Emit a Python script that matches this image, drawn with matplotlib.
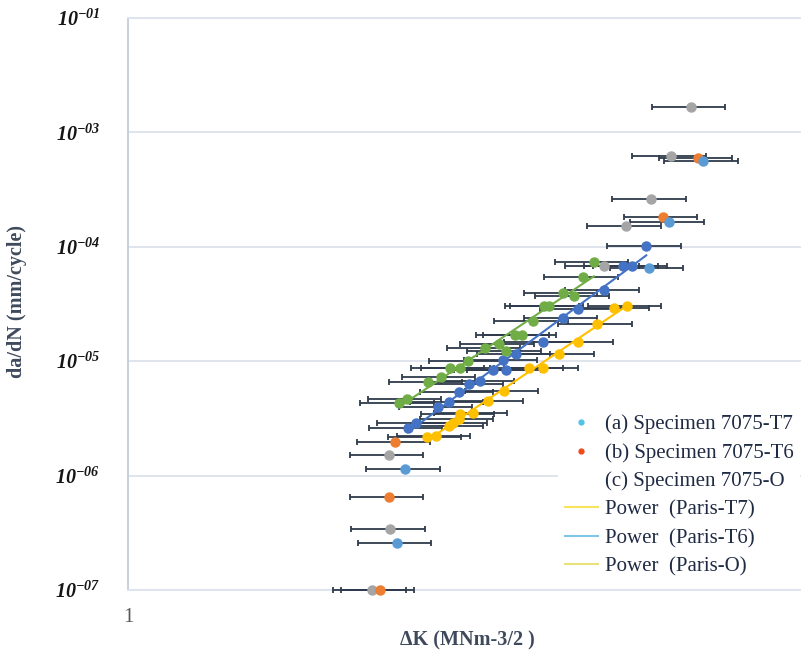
import matplotlib
matplotlib.use("Agg")
import matplotlib.pyplot as plt
from matplotlib.lines import Line2D
import numpy as np

# Delta K (MNm-3/2) and da/dN (mm/cycle)
T7_DK = [2.42, 2.49, 5.55, 5.93, 6.63]
T7_DADN = [2.58e-7, 1.14e-6, 6.53e-5, 1.65e-4, 5.62e-4]

T6_DK = [2.29, 2.36, 2.41, 5.81, 6.52]
T6_DADN = [1.00e-7, 6.50e-7, 1.97e-6, 1.82e-4, 5.97e-4]

O_DK = [2.23, 2.37, 2.36, 4.79, 5.15, 5.59, 5.97, 6.37]
O_DADN = [1.00e-7, 3.41e-7, 1.51e-6, 6.80e-5, 1.52e-4, 2.62e-4, 6.22e-4, 1.67e-3]

# Paris-region series (fitted with power trend lines)
PARIS_T7_DK = [2.67, 2.75, 2.87, 2.91, 2.97, 2.98, 3.11, 3.27, 3.44, 3.74, 3.92,
               4.13, 4.40, 4.68, 4.95, 5.16]
PARIS_T7_DADN = [2.18e-6, 2.22e-6, 2.71e-6, 2.88e-6, 3.12e-6, 3.46e-6, 3.53e-6,
                 4.49e-6, 5.49e-6, 8.72e-6, 8.72e-6, 1.16e-5, 1.47e-5, 2.12e-5,
                 2.92e-5, 3.04e-5]

PARIS_T6_DK = [2.51, 2.58, 2.77, 2.87, 2.97, 3.07, 3.18, 3.32, 3.43, 3.47, 3.58,
               3.92, 4.18, 4.40, 4.79, 5.10, 5.25, 5.50]
PARIS_T6_DADN = [2.61e-6, 2.88e-6, 3.98e-6, 4.40e-6, 5.38e-6, 6.32e-6, 6.71e-6,
                 8.38e-6, 1.02e-5, 8.38e-6, 1.16e-5, 1.47e-5, 2.39e-5, 2.86e-5,
                 4.19e-5, 6.80e-5, 6.80e-5, 1.02e-4]

PARIS_O_DK = [2.44, 2.50, 2.68, 2.80, 2.88, 2.98, 3.06, 3.24, 3.39, 3.47, 3.57,
              3.65, 3.79, 3.93, 3.99, 4.18, 4.34, 4.47, 4.63]
PARIS_O_DADN = [4.31e-6, 4.67e-6, 6.58e-6, 7.28e-6, 8.72e-6, 8.72e-6, 1.00e-5,
                1.30e-5, 1.41e-5, 1.23e-5, 1.69e-5, 1.69e-5, 2.25e-5, 3.04e-5,
                3.04e-5, 3.95e-5, 3.72e-5, 5.45e-5, 7.36e-5]

ERR_PCT = 0.12  # horizontal error bars, percentage of Delta K

Y_TICKS = [1e-7, 1e-6, 1e-5, 1e-4, 1e-3, 1e-2]
Y_TICK_LABELS = [r"$\mathrm{10^{-07}}$", r"$\mathrm{10^{-06}}$", r"$\mathrm{10^{-05}}$",
                 r"$\mathrm{10^{-04}}$", r"$\mathrm{10^{-03}}$", r"$\mathrm{10^{-01}}$"]
X_TICKS = [1]
X_TICK_LABELS = ["1"]

LEGEND_LABELS = [
    "(a) Specimen 7075-T7",
    "(b) Specimen 7075-T6",
    "(c) Specimen 7075-O",
    "Power  (Paris-T7)",
    "Power  (Paris-T6)",
    "Power  (Paris-O)",
]

BAR_COLOR = "#2F3B4C"
GRID_COLOR = "#DDE3EC"
LABEL_COLOR = "#3E4A5C"


def plot_series(ax, dk, dadn, color, z):
    dk = np.array(dk)
    ax.errorbar(dk, dadn, xerr=dk * ERR_PCT, fmt="none", ecolor=BAR_COLOR,
                elinewidth=1.3, capsize=2.4, capthick=1.3, zorder=2.7, clip_on=False)
    ax.plot(dk, dadn, "o", color=color, ms=6.5, zorder=z, clip_on=False)


def add_power_fit(ax, dk, dadn, color):
    b, log_a = np.polyfit(np.log10(dk), np.log10(dadn), 1)
    x = np.geomspace(min(dk), max(dk), 50)
    ax.plot(x, 10 ** log_a * x ** b, color=color, lw=1.5, zorder=3)


def main() -> None:
    plt.rcParams["font.family"] = ["Liberation Serif", "DejaVu Serif"]
    plt.rcParams["mathtext.fontset"] = "custom"
    plt.rcParams["mathtext.rm"] = "Liberation Serif:italic:bold"
    plt.rcParams["mathtext.it"] = "Liberation Serif:italic:bold"

    fig = plt.figure(figsize=(8.01, 6.61), dpi=100)
    ax = fig.add_axes([128 / 801, 71 / 661, 673 / 801, 572 / 661])
    ax.set_xscale("log")
    ax.set_yscale("log")

    plot_series(ax, O_DK, O_DADN, "#A5A5A5", 4)
    plot_series(ax, T6_DK, T6_DADN, "#ED7D31", 5)
    plot_series(ax, T7_DK, T7_DADN, "#5B9BD5", 6)
    plot_series(ax, PARIS_T7_DK, PARIS_T7_DADN, "#FFC000", 5)
    plot_series(ax, PARIS_T6_DK, PARIS_T6_DADN, "#4472C4", 5)
    plot_series(ax, PARIS_O_DK, PARIS_O_DADN, "#70AD47", 5)

    add_power_fit(ax, PARIS_T7_DK, PARIS_T7_DADN, "#FFC000")
    add_power_fit(ax, PARIS_T6_DK, PARIS_T6_DADN, "#4472C4")
    add_power_fit(ax, PARIS_O_DK, PARIS_O_DADN, "#70AD47")

    ax.set_xlim(1, 9.15)
    ax.set_ylim(1e-7, 1e-2)
    ax.set_yticks(Y_TICKS, labels=Y_TICK_LABELS)
    ax.set_xticks(X_TICKS, labels=X_TICK_LABELS)
    ax.minorticks_off()
    ax.tick_params(axis="y", length=0, pad=20, labelsize=14.5, labelcolor="#151515")
    ax.tick_params(axis="x", length=0, pad=13, labelsize=15, labelcolor="#595959")

    ax.yaxis.grid(True, color=GRID_COLOR, lw=1.3)
    ax.set_axisbelow(True)
    ax.spines["right"].set_visible(False)
    ax.spines["top"].set_color(GRID_COLOR)
    ax.spines["bottom"].set_color(GRID_COLOR)
    ax.spines["left"].set_color("#C3CCD9")
    for side in ["top", "bottom", "left"]:
        ax.spines[side].set_linewidth(1.3)

    fig.text(467 / 801, 1 - 640 / 661, "ΔK (MNm-3/2 )", fontsize=14.5,
             fontweight="bold", color=LABEL_COLOR, ha="center", va="center")
    fig.text(17 / 801, 1 - 302 / 661, "da/dN (mm/cycle)", rotation=90,
             fontsize=14.5, fontweight="bold", color=LABEL_COLOR,
             ha="center", va="center")

    handles = [
        Line2D([], [], ls="none", marker="o", ms=3.5, color="#4FC3E8"),
        Line2D([], [], ls="none", marker="o", ms=3.5, color="#F04A1A"),
        Line2D([], [], ls="none", marker="o", ms=3.5, color="none"),
        Line2D([], [], color="#F7E35C", lw=1.5),
        Line2D([], [], color="#7FC6E6", lw=1.5),
        Line2D([], [], color="#E9E27A", lw=1.5),
    ]
    leg = fig.legend(handles, LEGEND_LABELS, loc="upper left",
                     bbox_to_anchor=(548 / 801, 1 - 398 / 661), fontsize=15,
                     frameon=True, facecolor="white", edgecolor="none",
                     framealpha=1, fancybox=False, borderpad=0.3,
                     labelspacing=0.42, handlelength=1.6, handletextpad=0.35)
    for text in leg.get_texts():
        text.set_color("#1F2A44")

    fig.savefig("out.png", dpi=100)


if __name__ == "__main__":
    main()
